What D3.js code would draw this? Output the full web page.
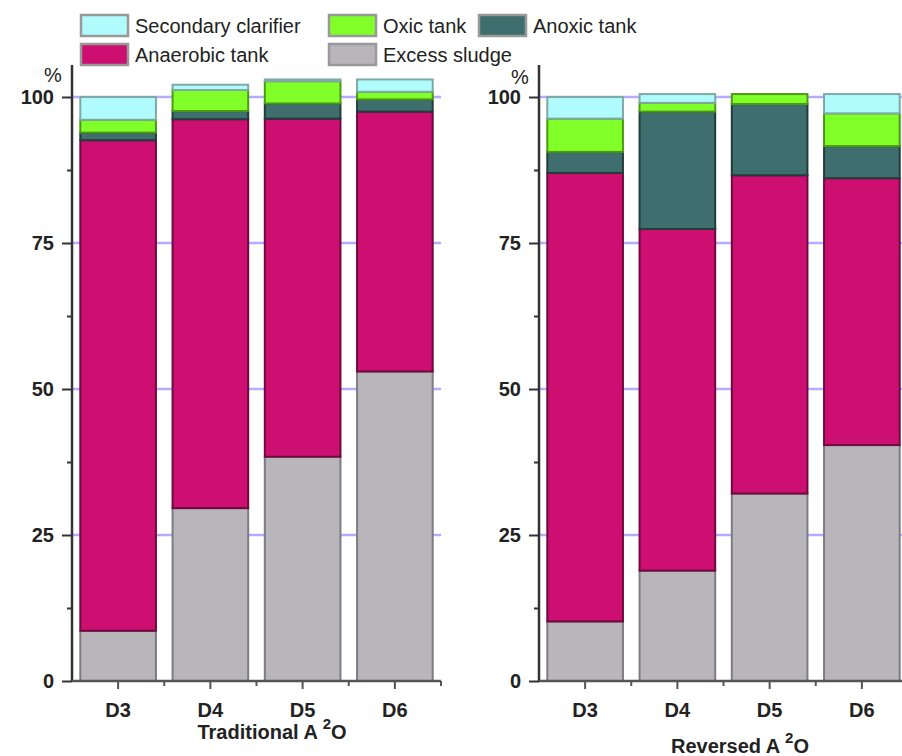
<!DOCTYPE html>
<html>
<head>
<meta charset="utf-8">
<script src="https://cdn.jsdelivr.net/npm/d3@7"></script>
<style>
  body { margin: 0; background: #fff; }
  text { font-family: "Liberation Sans", Arial, sans-serif; fill: #222; }
</style>
</head>
<body>
<div id="chart"></div>
<script>
// categories and tanks
var categories = ["D3", "D4", "D5", "D6"];
var tanks = ["Excess sludge", "Anaerobic tank", "Anoxic tank", "Oxic tank", "Secondary clarifier"];
var yTicks = [0, 25, 50, 75, 100];

// Traditional A2O (% of each segment)
var tradExcess     = [8.6, 29.6, 38.4, 53.0];
var tradAnaerobic  = [84.0, 66.6, 57.9, 44.5];
var tradAnoxic     = [1.3, 1.4, 2.6, 2.1];
var tradOxic       = [2.2, 3.6, 3.8, 1.3];
var tradClarifier  = [3.9, 0.9, 0.3, 2.1];

// Reversed A2O
var revExcess      = [10.2, 18.9, 32.1, 40.4];
var revAnaerobic   = [76.8, 58.5, 54.5, 45.7];
var revAnoxic      = [3.6, 20.1, 12.2, 5.5];
var revOxic        = [5.7, 1.5, 1.7, 5.6];
var revClarifier   = [3.7, 1.5, 0.0, 3.3];

function init() {
    var width = 902, height = 756;

    var svg = d3.select("#chart")
        .append("svg")
        .attr("width", width)
        .attr("height", height);

    var fill = d3.scaleOrdinal()
        .domain(tanks)
        .range(["#b8b6bb", "#cc0f70", "#3e6e6e", "#80ff28", "#b0fcfc"]);
    var edge = d3.scaleOrdinal()
        .domain(tanks)
        .range(["#7e7c82", "#6e0a3e", "#223c3c", "#4c9a14", "#7fa8a8"]);

    var y = d3.scaleLinear().domain([0, 100]).range([681, 97]);

    function toRows(cols) {
        return categories.map(function (c, i) {
            var row = { cat: c };
            tanks.forEach(function (t, k) { row[t] = cols[k][i]; });
            return row;
        });
    }

    var panels = [
        { axisX: 72, right: 441, title: "Traditional A", titleX: 272, titleY: 739, pctX: 53, pctY: 82,
          rows: toRows([tradExcess, tradAnaerobic, tradAnoxic, tradOxic, tradClarifier]) },
        { axisX: 539, right: 908, title: "Reversed A", titleX: 740, titleY: 753, pctX: 520, pctY: 84,
          rows: toRows([revExcess, revAnaerobic, revAnoxic, revOxic, revClarifier]) }
    ];

    var stack = d3.stack().keys(tanks);

    panels.forEach(function (p) {
        var g = svg.append("g");
        var x = d3.scaleBand()
            .domain(categories)
            .range([p.axisX, p.right])
            .paddingInner(0.18)
            .paddingOuter(0.09);

        // gridlines
        g.selectAll(".grid")
            .data(yTicks.filter(function (d) { return d > 0; }))
            .enter().append("line")
            .attr("x1", p.axisX).attr("x2", Math.min(p.right, width))
            .attr("y1", function (d) { return y(d); })
            .attr("y2", function (d) { return y(d); })
            .attr("stroke", "#b4acff")
            .attr("stroke-width", 2.5);

        // stacked bars
        var series = stack(p.rows);
        g.selectAll(".layer")
            .data(series)
            .enter().append("g")
            .each(function (s) {
                d3.select(this).selectAll("rect")
                    .data(s.filter(function (d) { return d[1] - d[0] > 0; }))
                    .enter().append("rect")
                    .attr("x", function (d) { return x(d.data.cat); })
                    .attr("width", x.bandwidth())
                    .attr("y", function (d) { return y(d[1]); })
                    .attr("height", function (d) { return y(d[0]) - y(d[1]); })
                    .attr("fill", fill(s.key))
                    .attr("stroke", edge(s.key))
                    .attr("stroke-width", 2);
            });

        // y axis
        var yAxis = d3.axisLeft(y)
            .tickValues(d3.range(0, 101, 12.5))
            .tickFormat(function (d) { return yTicks.indexOf(d) >= 0 ? d : ""; })
            .tickSizeOuter(0);
        var ya = g.append("g")
            .attr("transform", "translate(" + p.axisX + ",0)")
            .call(yAxis);
        ya.select(".domain").remove();
        ya.selectAll(".tick line")
            .attr("x2", function (d) { return yTicks.indexOf(d) >= 0 ? -10 : -5; })
            .attr("stroke", "#333").attr("stroke-width", 2);
        ya.selectAll(".tick text")
            .attr("x", -18)
            .style("font-size", "20px")
            .style("font-weight", "bold")
            .style("font-family", "Liberation Sans, Arial, sans-serif")
            .attr("fill", "#222");
        g.append("line")
            .attr("x1", p.axisX).attr("x2", p.axisX)
            .attr("y1", y(105.5)).attr("y2", y(0) + 1)
            .attr("stroke", "#333").attr("stroke-width", 2.5);

        // x axis
        var xa = g.append("g")
            .attr("transform", "translate(0," + y(0) + ")")
            .call(d3.axisBottom(x).tickSize(8).tickPadding(14).tickSizeOuter(0));
        xa.select(".domain").remove();
        xa.selectAll(".tick line").attr("stroke", "#555").attr("stroke-width", 2);
        xa.selectAll(".tick text")
            .style("font-size", "20px")
            .style("font-weight", "bold")
            .style("font-family", "Liberation Sans, Arial, sans-serif")
            .attr("fill", "#222");
        // minor ticks between categories
        xa.selectAll(".minor")
            .data(categories)
            .enter().append("line")
            .attr("x1", function (d) { return x(d) + x.bandwidth() + x.step() * 0.09; })
            .attr("x2", function (d) { return x(d) + x.bandwidth() + x.step() * 0.09; })
            .attr("y1", 0).attr("y2", 5)
            .attr("stroke", "#555").attr("stroke-width", 2);
        g.append("line")
            .attr("x1", p.axisX).attr("x2", Math.min(p.right, width))
            .attr("y1", y(0)).attr("y2", y(0))
            .attr("stroke", "#555").attr("stroke-width", 2.5);

        // % unit
        g.append("text")
            .attr("x", p.pctX).attr("y", p.pctY)
            .attr("text-anchor", "middle")
            .style("font-size", "20px")
            .text("%");

        // axis title with superscript
        var t = g.append("text")
            .attr("x", p.titleX).attr("y", p.titleY)
            .attr("text-anchor", "middle")
            .style("font-size", "20px")
            .style("font-weight", "bold");
        t.append("tspan").text(p.title + "  ");
        t.append("tspan").attr("dy", -10).style("font-size", "15px").text("2");
        t.append("tspan").attr("dy", 10).text("O");
    });

    // legend
    var legendItems = [
        { key: "Secondary clarifier", x: 80, y: 14 },
        { key: "Oxic tank", x: 328, y: 14 },
        { key: "Anoxic tank", x: 478, y: 14 },
        { key: "Anaerobic tank", x: 80, y: 43 },
        { key: "Excess sludge", x: 328, y: 43 }
    ];
    var legend = svg.append("g").attr("class", "legend");
    var li = legend.selectAll("g")
        .data(legendItems)
        .enter().append("g")
        .attr("transform", function (d) { return "translate(" + d.x + "," + d.y + ")"; });
    li.append("rect")
        .attr("x", 1).attr("y", 1)
        .attr("width", 47).attr("height", 21)
        .attr("fill", function (d) { return fill(d.key); })
        .attr("stroke", "#999")
        .attr("stroke-width", 2.5);
    li.append("text")
        .attr("x", 55).attr("y", 19)
        .style("font-size", "20px")
        .attr("fill", "#222")
        .text(function (d) { return d.key; });
}

window.onload = init;
</script>
</body>
</html>
